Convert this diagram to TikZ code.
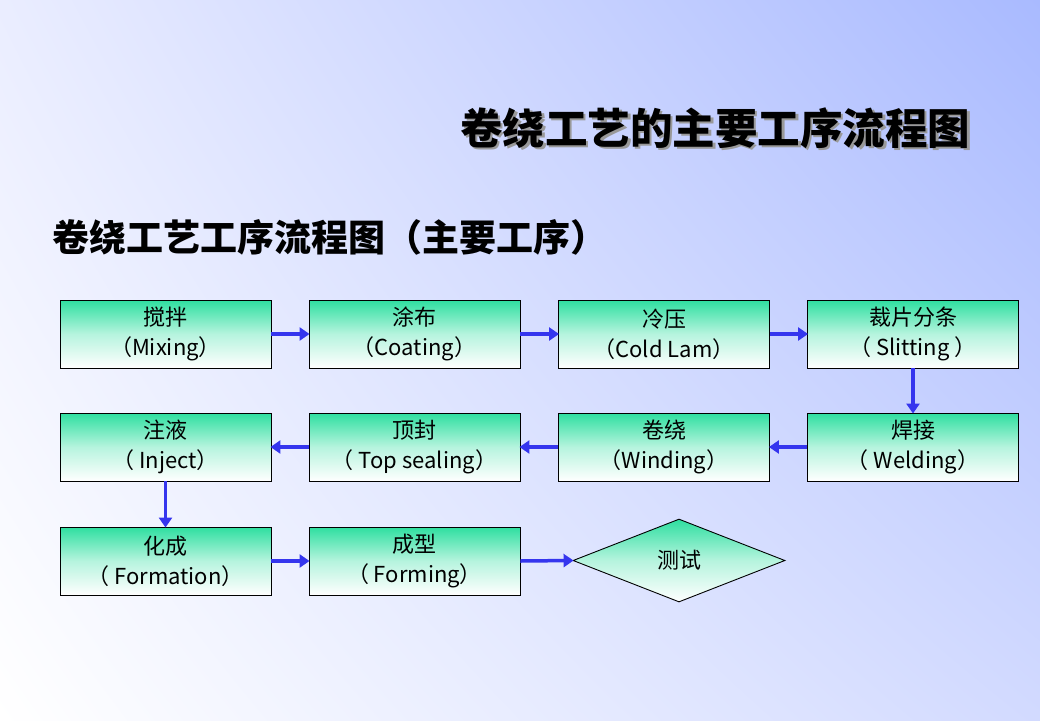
\documentclass[tikz,border=0pt]{standalone}
\usepackage{fontspec}
\setmainfont{Noto Sans CJK SC}
\newfontfamily\cjk{Noto Sans CJK SC}
\usetikzlibrary{shapes.geometric,arrows.meta,shadings}
\definecolor{bgblue}{HTML}{A9BAFF}
\definecolor{bgmid}{HTML}{D2DAFF}
\definecolor{bgtl}{HTML}{EAEDFF}
\definecolor{boxgreen}{HTML}{2EDFA0}
\definecolor{arrowblue}{HTML}{3535EE}
\tikzset{
  procbox/.style={draw=black, line width=0.9pt, minimum width=211pt, minimum height=68pt,
    inner sep=0pt, top color=boxgreen, bottom color=white, middle color=boxgreen!35!white,
    align=center, font=\fontsize{22}{30}\selectfont},
  testshape/.style={draw=black, line width=0.9pt, diamond, aspect=2.55, minimum width=212pt, minimum height=83pt,
    inner sep=0pt, top color=boxgreen, bottom color=white, middle color=boxgreen!35!white,
    font=\fontsize{22}{30}\selectfont},
  flow/.style={draw=arrowblue, line width=3.5pt, -{Triangle[length=10pt,width=13pt]}, shorten >=-1pt}
}
\begin{document}
\begin{tikzpicture}[x=1pt,y=-1pt]
\useasboundingbox (0,0) rectangle (1040,720);
\shade[upper left=bgtl, upper right=bgblue, lower right=bgmid, lower left=white] (0,0) rectangle (1040,720);
% titles
\node[text=black!40, font=\fontsize{42.5}{44}\selectfont\bfseries] at (717.5,130.5) {卷绕工艺的主要工序流程图};
\node[text=black, font=\fontsize{42.5}{44}\selectfont\bfseries] (title) at (715,128) {卷绕工艺的主要工序流程图};
\node[anchor=west, text=black, font=\fontsize{37}{40}\selectfont\bfseries, inner sep=0pt] (sub) at (52,237) {卷绕工艺工序流程图（主要工序）};
% boxes
\node[procbox] (b1) at (165.5,334) {搅拌\\（Mixing）};
\node[procbox] (b2) at (414.5,334) {涂布\\（Coating）};
\node[procbox] (b3) at (664,334) {冷压\\（Cold Lam）};
\node[procbox] (b4) at (913,334) {裁片分条\\（ Slitting ）};
\node[procbox] (b5) at (913,447) {焊接\\（ Welding）};
\node[procbox] (b6) at (664,447) {卷绕\\（Winding）};
\node[procbox] (b7) at (414.5,447) {顶封\\（ Top sealing）};
\node[procbox] (b8) at (165.5,447) {注液\\（ Inject）};
\node[procbox] (b9) at (165.5,561) {化成\\（ Formation）};
\node[procbox] (b10) at (414.5,561) {成型\\（ Forming）};
\node[testshape] (t) at (679,560.5) {测试};
% arrows
\draw[flow] (b1) -- (b2);
\draw[flow] (b2) -- (b3);
\draw[flow] (b3) -- (b4);
\draw[flow] (b4) -- (b5);
\draw[flow] (b5) -- (b6);
\draw[flow] (b6) -- (b7);
\draw[flow] (b7) -- (b8);
\draw[flow] (b8) -- (b9);
\draw[flow] (b9) -- (b10);
\draw[flow] (b10.east) -- (t.west);
\end{tikzpicture}
\end{document}
